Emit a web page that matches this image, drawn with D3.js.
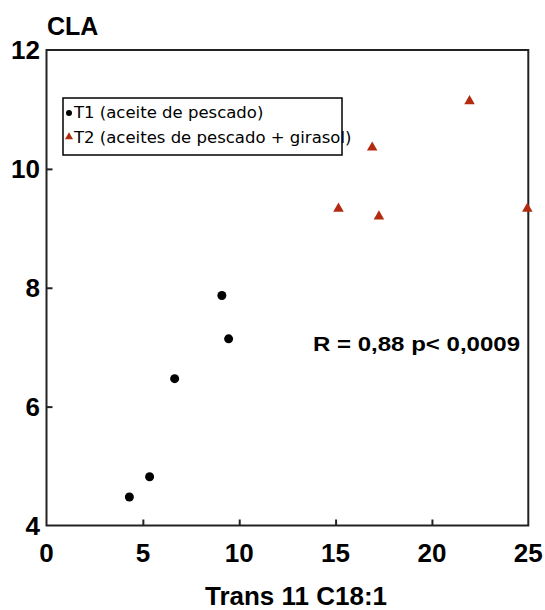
<!DOCTYPE html>
<html>
<head>
<meta charset="utf-8">
<script src="https://cdn.jsdelivr.net/npm/d3@7"></script>
<style>
  body { margin: 0; background: white; }
  svg { display: block; }
</style>
</head>
<body>
<svg id="chart" width="545" height="610"></svg>
<script>
// data
var t1X = [4.3, 5.35, 6.65, 9.1, 9.45]
var t1Y = [4.48, 4.82, 6.47, 7.87, 7.14]
var t2X = [15.15, 16.9, 17.25, 21.95, 24.95]
var t2Y = [9.33, 10.36, 9.2, 11.14, 9.33]
var xTicks = [0, 5, 10, 15, 20, 25]
var yTicks = [4, 6, 8, 10, 12]
var seriesNames = ["T1 (aceite de pescado)", "T2 (aceites de pescado + girasol)"]
var yTitle = "CLA"
var xTitle = "Trans 11 C18:1"
var statText = "R = 0,88 p< 0,0009"

var svg = d3.select("#chart")
// note: "top" is taken by window.top, so plot edges get their own names
var plotL = 46.5, plotR = 528.3, plotT = 50, plotB = 525.5
var red = "#b22a10"

var x = d3.scaleLinear().domain([0, 25]).range([plotL, plotR])
var y = d3.scaleLinear().domain([4, 12]).range([plotB, plotT])

// frame around plot area
svg.append("rect")
  .attr("x", plotL).attr("y", plotT)
  .attr("width", plotR - plotL).attr("height", plotB - plotT)
  .attr("fill", "none").attr("stroke", "#222").attr("stroke-width", 2)

// inner tick marks, labels drawn separately so they can be big and bold
svg.append("g")
  .attr("transform", "translate(0," + plotB + ")")
  .call(d3.axisTop(x).tickValues(xTicks.slice(1, -1)).tickSize(6).tickFormat(""))
svg.append("g")
  .attr("transform", "translate(" + plotL + ",0)")
  .call(d3.axisRight(y).tickValues(yTicks.slice(1, -1)).tickSize(6).tickFormat(""))
svg.selectAll(".domain").remove()
svg.selectAll(".tick line").attr("stroke", "#222").attr("stroke-width", 2)

var bold = "'Liberation Sans', Arial, sans-serif"
svg.selectAll(".xlab").data(xTicks).enter().append("text")
  .attr("class", "xlab")
  .attr("x", function(d) { return x(d) })
  .attr("y", 562)
  .attr("text-anchor", "middle")
  .style("font", "bold 26px " + bold)
  .text(function(d) { return d })
svg.selectAll(".ylab").data(yTicks).enter().append("text")
  .attr("class", "ylab")
  .attr("x", 40)
  .attr("y", function(d) { return y(d) + 9 })
  .attr("text-anchor", "end")
  .style("font", "bold 26px " + bold)
  .text(function(d) { return d })

svg.append("text").attr("x", 47).attr("y", 35)
  .style("font", "bold 25px " + bold).text(yTitle)
svg.append("text").attr("x", 296).attr("y", 605)
  .attr("text-anchor", "middle")
  .style("font", "bold 26px " + bold).text(xTitle)

// points
var tri = d3.symbol().type(d3.symbolTriangle).size(48)
svg.selectAll(".t1").data(d3.zip(t1X, t1Y)).enter().append("circle")
  .attr("class", "t1")
  .attr("cx", function(d) { return x(d[0]) })
  .attr("cy", function(d) { return y(d[1]) })
  .attr("r", 4.5)
  .attr("fill", "black")
svg.selectAll(".t2").data(d3.zip(t2X, t2Y)).enter().append("path")
  .attr("class", "t2")
  .attr("d", tri)
  .attr("transform", function(d) { return "translate(" + x(d[0]) + "," + y(d[1]) + ")" })
  .attr("fill", red)

// legend
var lg = svg.append("g")
lg.append("rect").attr("x", 63).attr("y", 98).attr("width", 279).attr("height", 57)
  .attr("fill", "none").attr("stroke", "black").attr("stroke-width", 1.5)
lg.append("circle").attr("cx", 69).attr("cy", 113).attr("r", 3).attr("fill", "black")
lg.append("path").attr("d", d3.symbol().type(d3.symbolTriangle).size(28))
  .attr("transform", "translate(69,137)").attr("fill", red)
lg.selectAll(".lt").data(seriesNames).enter().append("text")
  .attr("class", "lt")
  .attr("x", 74)
  .attr("y", function(d, i) { return 118 + i * 25 })
  .style("font", "16.5px 'DejaVu Sans', Verdana, sans-serif")
  .text(function(d) { return d })

// correlation note
svg.append("text").attr("x", 313).attr("y", 351)
  .attr("textLength", 207).attr("lengthAdjust", "spacingAndGlyphs")
  .style("font", "bold 20px " + bold)
  .text(statText)
</script>
</body>
</html>
